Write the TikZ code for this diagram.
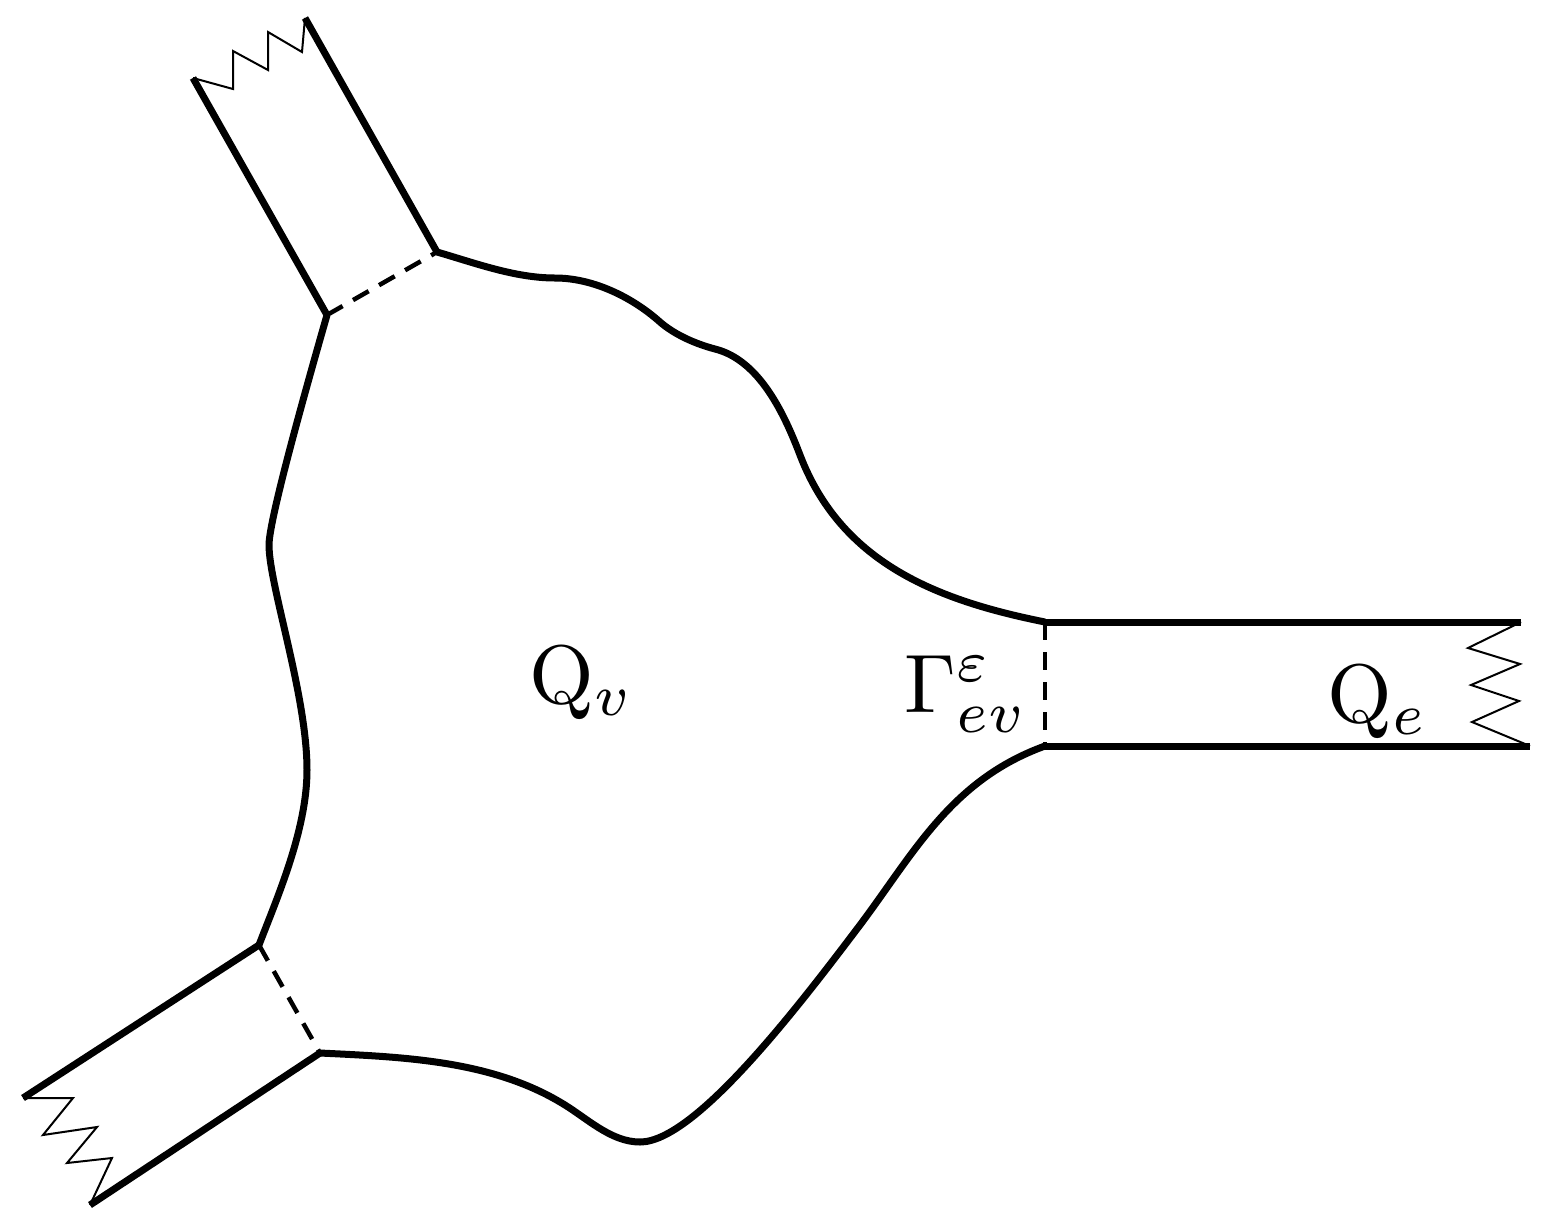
\documentclass[tikz,border=0pt]{standalone}
\begin{document}
\begin{tikzpicture}[x=1pt,y=-1pt,
  wall/.style={line width=7pt},
  cut/.style={line width=4.5pt,dash pattern=on 18pt off 12pt},
  zig/.style={line width=2pt,line join=miter},
  lbl/.style={scale=8.3,inner sep=0pt,anchor=base west}]
\useasboundingbox (0,0) rectangle (1545,1227);
% corner points
\coordinate (tA) at (327,315);
\coordinate (tB) at (437,252);
\coordinate (tAo) at (193,78);
\coordinate (tBo) at (305,18);
\coordinate (rA) at (1045,622);
\coordinate (rB) at (1045,746);
\coordinate (rAo) at (1521,622);
\coordinate (rBo) at (1530,746);
\coordinate (bA) at (259,945);
\coordinate (bB) at (320,1053);
\coordinate (bAo) at (23,1098);
\coordinate (bBo) at (90,1205);
% arms
\draw[wall] (tAo) -- (tA);
\draw[wall] (tBo) -- (tB);
\draw[wall] (rA) -- (rAo);
\draw[wall] (rB) -- (rBo);
\draw[wall] (bAo) -- (bA);
\draw[wall] (bBo) -- (bB);
% interfaces
\draw[cut] (tA) -- (tB);
\draw[cut] (rA) -- (rB);
\draw[cut] (bA) -- (bB);
% zigzag ends
\draw[zig] (tAo) -- (233,89) -- (233,51) -- (268,70) -- (268,32) -- (302,52) -- (tBo);
\draw[zig] (rAo) -- (1468,648) -- (1520,664) -- (1471,685) -- (1519,701) -- (1472,722) -- (rBo);
\draw[zig] (bAo) -- (73,1098) -- (43,1135) -- (97,1127) -- (67,1163) -- (112,1158) -- (bBo);
% vertex boundary
\draw[wall,line join=round] (tB) .. controls (475,263) and (515,278) .. (555,278)
  .. controls (593,278) and (632,297) .. (660,322)
  .. controls (675,335) and (696,344) .. (715,349)
  .. controls (759,360) and (784,413) .. (800,455)
  .. controls (841,562) and (935,600) .. (rA);
\draw[wall,line join=round] (rB) .. controls (951,780) and (914,853) .. (860,925)
  .. controls (798,1007) and (695,1142) .. (640,1142)
  .. controls (610,1142) and (586,1117) .. (560,1102)
  .. controls (489,1060) and (402,1057) .. (bB);
\draw[wall,line join=round] (tA) .. controls (305,392) and (269,520) .. (269,545)
  .. controls (269,585) and (307,695) .. (307,770)
  .. controls (307,830) and (277,898) .. (bA);
% labels
\node[lbl] (qv) at (528,703) {$\mathrm{Q}_v$};
\node[lbl] (gam) at (903,712) {$\Gamma^{\varepsilon}_{ev}$};
\node[lbl] (qe) at (1326,722) {$\mathrm{Q}_e$};
\end{tikzpicture}
\end{document}
